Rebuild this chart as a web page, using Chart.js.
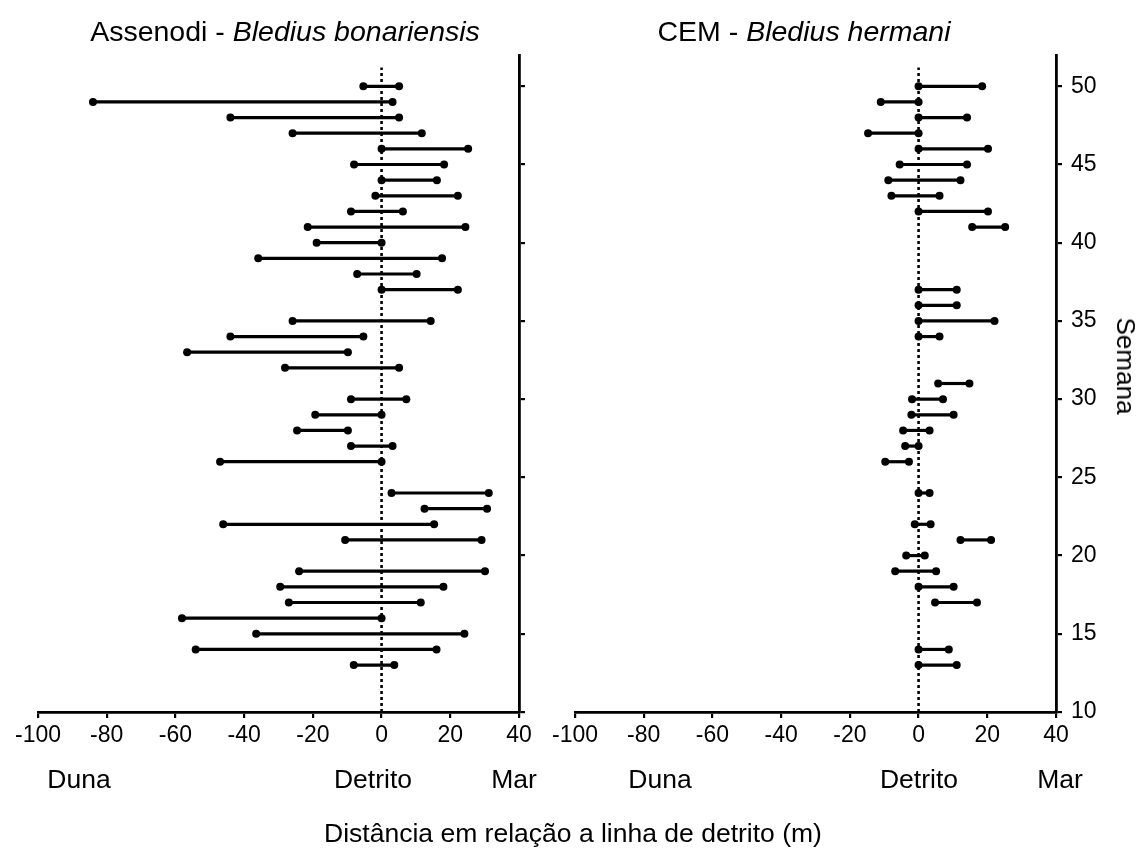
<!DOCTYPE html>
<html>
<head>
<meta charset="utf-8">
<script src="https://cdn.jsdelivr.net/npm/chart.js@4.4.1/dist/chart.umd.min.js"></script>
<style>
  html, body { margin: 0; padding: 0; background: #fff; }
  #fig { position: relative; width: 1144px; height: 850px; overflow: hidden;
         font-family: "Liberation Sans", Arial, sans-serif; color: #000; }
  #fig canvas { position: absolute; top: 0; }
  .lbl { position: absolute; transform: translate(-50%, -50%); white-space: nowrap; line-height: 1; }
  .vert { transform: translate(-50%, -50%) rotate(90deg); }
</style>
</head>
<body>
<div id="fig">
  <canvas id="panelA" width="540" height="850" style="left:0px"></canvas>
  <canvas id="panelB" width="604" height="850" style="left:540px"></canvas>

  <div class="lbl" style="left:285px; top:31px; font-size:28.5px">Assenodi - <i>Bledius bonariensis</i></div>
  <div class="lbl" style="left:804px; top:31px; font-size:28.5px">CEM - <i>Bledius hermani</i></div>

  <div class="lbl" style="left:79px;  top:779px; font-size:26.5px">Duna</div>
  <div class="lbl" style="left:373px; top:779px; font-size:26.5px">Detrito</div>
  <div class="lbl" style="left:514px; top:779px; font-size:26.5px">Mar</div>

  <div class="lbl" style="left:660px;  top:779px; font-size:26.5px">Duna</div>
  <div class="lbl" style="left:919px;  top:779px; font-size:26.5px">Detrito</div>
  <div class="lbl" style="left:1060px; top:779px; font-size:26.5px">Mar</div>

  <div class="lbl" style="left:573px; top:833px; font-size:26.5px">Distância em relação a linha de detrito (m)</div>
  <div class="lbl vert" style="left:1126px; top:366px; font-size:26px">Semana</div>
</div>

<script>
// Weekly occupied range relative to the wrack (detrito) line, in metres.
// Assenodi - Bledius bonariensis
const weeksA = [50, 49, 48, 47, 46, 45, 44, 43, 42, 41, 40, 39, 38, 37, 35, 34, 33, 32,
                30, 29, 28, 27, 26, 24, 23, 22, 21, 19, 18, 17, 16, 15, 14, 13];
const fromA  = [-5.3, -84.0, -44.0, -25.9, 0, -8.0, 0, -1.8, -8.9, -21.5, -18.9, -35.9, -7.1, 0, -25.9, -44.0, -56.6, -28.1,
                -8.9, -19.3, -24.6, -8.9, -47.0, 2.9, 12.5, -46.1, -10.6, -24.0, -29.5, -27.0, -58.1, -36.5, -54.1, -8.1];
const toA    = [5.1, 3.2, 5.1, 11.7, 25.2, 18.2, 16.1, 22.2, 6.2, 24.4, 0, 17.6, 10.2, 22.2, 14.3, -5.3, -9.8, 5.1,
                7.2, 0, -9.8, 3.2, 0, 31.2, 30.7, 15.3, 29.1, 30.1, 18.0, 11.4, 0, 24.1, 16.0, 3.7];

// CEM - Bledius hermani
const weeksB = [50, 49, 48, 47, 46, 45, 44, 43, 42, 41, 37, 36, 35, 34,
                31, 30, 29, 28, 27, 26, 24, 22, 21, 20, 19, 18, 17, 14, 13];
const fromB  = [0, -11.0, 0, -14.7, 0, -5.5, -8.8, -7.9, 0, 15.6, 0, 0, 0, 0,
                5.7, -1.9, -2.1, -4.5, -3.9, -9.7, 0, -1.1, 12.2, -3.6, -6.8, 0, 4.8, 0, 0];
const toB    = [18.5, 0, 14.1, 0, 20.2, 14.1, 12.2, 6.1, 20.2, 25.2, 11.1, 11.1, 22.1, 6.1,
                14.8, 7.1, 10.2, 3.2, 0, -2.8, 3.2, 3.5, 21.1, 1.8, 5.1, 10.2, 17.0, 8.8, 11.1];

// Axis ranges and ticks
const xMin = -100, xMax = 40, xStep = 20;
const weekMin = 10, weekMax = 52, weekStep = 5;
const wrackLine = 0;          // position of the detritus line
const wrackLineTop = 51.2;    // week where the dotted reference stops

const FONT = "'Liberation Sans', Arial, sans-serif";

function buildPanel(canvasId, weeks, from, to, cfg) {
  const datasets = weeks.map((w, i) => ({
    data: [{ x: from[i], y: w }, { x: to[i], y: w }],
    borderColor: '#000',
    backgroundColor: '#000',
    borderWidth: 3.2,
    pointRadius: 4,
    pointBackgroundColor: '#000',
    pointBorderWidth: 0,
    order: 0
  }));
  datasets.push({
    data: [{ x: wrackLine, y: weekMin }, { x: wrackLine, y: wrackLineTop }],
    borderColor: '#000',
    backgroundColor: '#000',
    borderWidth: 2.6,
    borderDash: [3, 3],
    pointRadius: 0,
    order: 1
  });

  const gridOpts = { drawOnChartArea: false, drawTicks: true, tickLength: 6, color: '#000', lineWidth: 2.2 };
  const borderOpts = { display: true, color: '#000', width: 2.8 };

  return new Chart(document.getElementById(canvasId), {
    type: 'line',
    data: { datasets },
    options: {
      responsive: false,
      animation: false,
      devicePixelRatio: 1,
      layout: { padding: { left: cfg.padLeft, top: 55, right: 0, bottom: 0 } },
      plugins: { legend: { display: false }, tooltip: { enabled: false }, title: { display: false } },
      scales: {
        x: {
          type: 'linear', position: 'bottom', min: xMin, max: xMax,
          ticks: { stepSize: xStep, color: '#000', font: { family: FONT, size: 23 }, padding: 4, maxRotation: 0 },
          grid: gridOpts,
          border: borderOpts,
          afterFit: s => { s.height = 138; }
        },
        y: {
          type: 'linear', position: 'right', min: weekMin, max: weekMax,
          ticks: { stepSize: weekStep, includeBounds: false, display: cfg.showWeeks,
                   color: '#000', font: { family: FONT, size: 23 }, padding: 9 },
          grid: gridOpts,
          border: borderOpts,
          afterFit: s => { s.width = cfg.yWidth; }
        }
      }
    }
  });
}

buildPanel('panelA', weeksA, fromA, toA, { padLeft: 38, yWidth: 21, showWeeks: false });
buildPanel('panelB', weeksB, fromB, toB, { padLeft: 35, yWidth: 88, showWeeks: true });
</script>
</body>
</html>
